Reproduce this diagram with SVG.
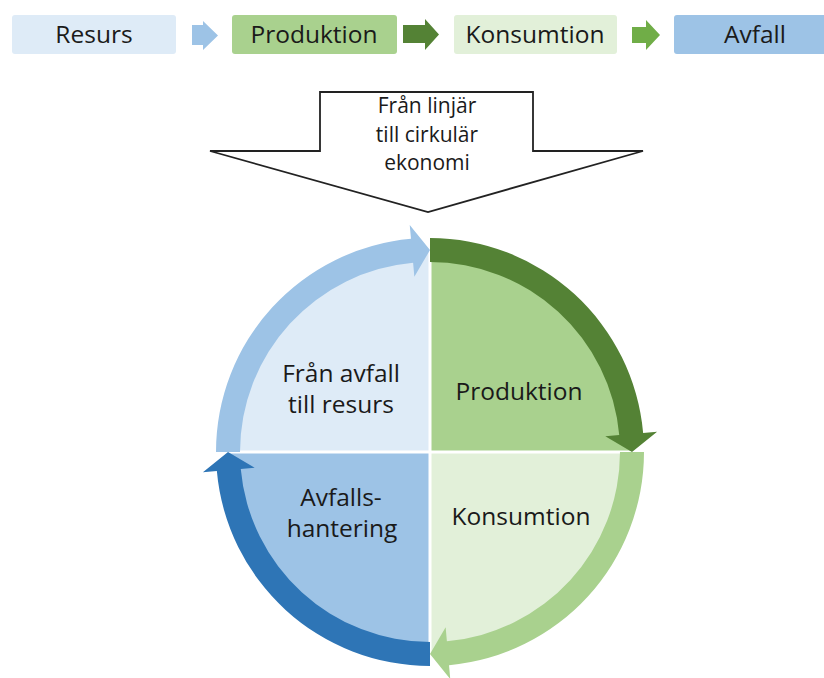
<svg xmlns="http://www.w3.org/2000/svg" width="824" height="678" viewBox="0 0 824 678">
<style>
  text { font-family: "Open Sans", "Noto Sans", "DejaVu Sans", sans-serif; fill: #1a1a1a; text-anchor: middle; }
  .lbl { font-size: 24.5px; }
  .small { font-size: 21px; }
  .box { stroke: none; }
  .div { stroke: #ffffff; stroke-width: 3; fill: none; }
</style>
<rect width="824" height="678" fill="#ffffff"/>

<!-- Linear chain -->
<g id="node-resurs">
  <rect class="box" x="12" y="15" width="164" height="39" rx="3" fill="#deebf7"/>
  <text class="lbl" x="94" y="43">Resurs</text>
</g>
<g id="node-produktion-top">
  <rect class="box" x="232" y="15" width="165" height="39" rx="3" fill="#a9d18e"/>
  <text class="lbl" x="314" y="43">Produktion</text>
</g>
<g id="node-konsumtion-top">
  <rect class="box" x="454" y="15" width="163" height="39" rx="3" fill="#e2f0d9"/>
  <text class="lbl" x="535" y="43">Konsumtion</text>
</g>
<g id="node-avfall">
  <rect class="box" x="674" y="15" width="166" height="39" rx="3" fill="#9dc3e6"/>
  <text class="lbl" x="755" y="43">Avfall</text>
</g>

<!-- Transition arrow -->
<g id="node-transition">
  <path d="M320,92 L533,92 L533,151 L643,151 L428,212 L210,151 L320,151 Z" fill="#ffffff" stroke="#222222" stroke-width="1.8" stroke-linejoin="miter"/>
  <text class="small" x="427" y="113">Från linjär</text>
  <text class="small" x="427" y="142">till cirkulär</text>
  <text class="small" x="427" y="170">ekonomi</text>
</g>

<!-- Circle quadrants -->
<g id="node-fran-avfall">
  <path d="M430,452 L228,452 A202,202 0 0 1 430,250 Z" fill="#deebf7"/>
  <text class="lbl" x="341" y="382">Från avfall</text>
  <text class="lbl" x="341" y="413">till resurs</text>
</g>
<g id="node-produktion">
  <path d="M430,452 L430,250 A202,202 0 0 1 632,452 Z" fill="#a9d18e"/>
  <text class="lbl" x="519" y="400">Produktion</text>
</g>
<g id="node-konsumtion">
  <path d="M430,452 L632,452 A202,202 0 0 1 430,654 Z" fill="#e2f0d9"/>
  <text class="lbl" x="521" y="525">Konsumtion</text>
</g>
<g id="node-avfallshantering">
  <path d="M430,452 L430,654 A202,202 0 0 1 228,452 Z" fill="#9dc3e6"/>
  <text class="lbl" x="341" y="506">Avfalls-</text>
  <text class="lbl" x="342" y="537">hantering</text>
</g>
<g id="dividers">
  <line class="div" x1="430" y1="248" x2="430" y2="656"/>
  <line class="div" x1="226" y1="452" x2="634" y2="452"/>
</g>

<!-- Connectors -->
<g id="connectors">
  <!-- linear chain arrows -->
  <path d="M192,25 L203,25 L203,21 L218,35.5 L203,50 L203,45 L192,45 Z" fill="#9dc3e6"/>
  <path d="M403,25 L425,25 L425,19 L439,34.5 L425,50 L425,43 L403,43 Z" fill="#548235"/>
  <path d="M632,27 L646,27 L646,20 L660,35 L646,50 L646,43 L632,43 Z" fill="#70ad47"/>
  <!-- circular arrows -->
  <path d="M216,452 A214,214 0 0 1 410.98,238.86 L409.73,224.91 L430,250 L414.35,276.70 L413.11,262.76 A190,190 0 0 0 240,452 Z" fill="#9dc3e6"/>
  <path d="M430,238 A214,214 0 0 1 643.14,432.98 L657.09,431.73 L632,452 L605.30,436.35 L619.24,435.11 A190,190 0 0 0 430,262 Z" fill="#548235"/>
  <path d="M644,452 A214,214 0 0 1 449.02,665.14 L450.27,679.09 L430,654 L445.65,627.30 L446.89,641.24 A190,190 0 0 0 620,452 Z" fill="#a9d18e"/>
  <path d="M430,666 A214,214 0 0 1 216.86,471.02 L202.91,472.27 L228,452 L254.70,467.65 L240.76,468.89 A190,190 0 0 0 430,642 Z" fill="#2e75b6"/>
</g>
</svg>
